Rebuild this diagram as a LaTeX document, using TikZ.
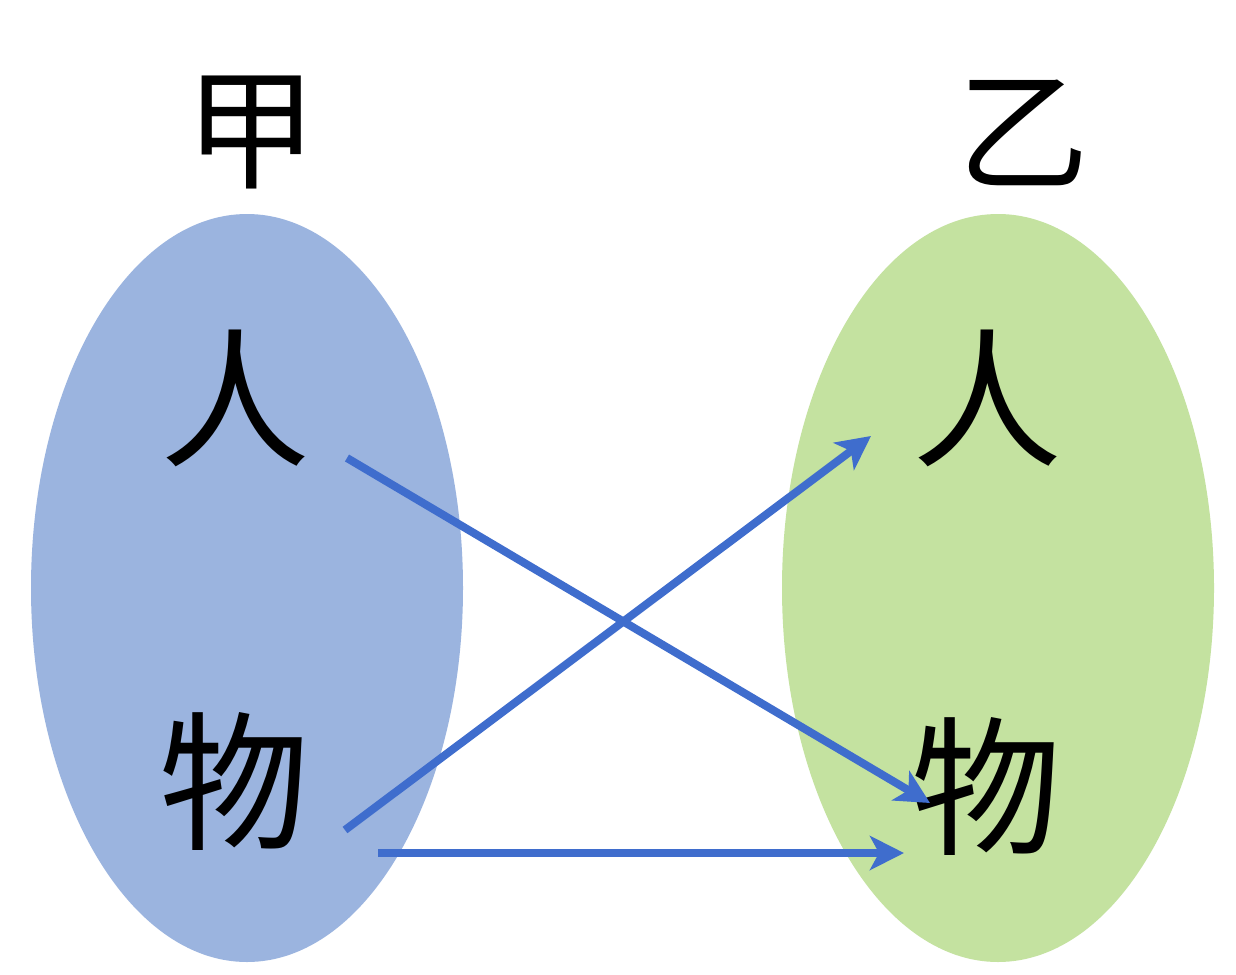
\documentclass[tikz,border=0pt]{standalone}
\usepackage{fontspec}
\newfontfamily\cjk{Noto Sans CJK SC}
\usetikzlibrary{arrows.meta,shapes.geometric}
\definecolor{blobA}{HTML}{9BB4DF}
\definecolor{blobB}{HTML}{C4E2A0}
\definecolor{arrowblue}{HTML}{3F6DCD}
\tikzset{
  blob/.style={ellipse, draw=none, minimum width=432pt, minimum height=748pt, inner sep=0pt},
  bigchar/.style={inner sep=0pt, font=\cjk\fontsize{150}{150}\selectfont},
  titlechar/.style={inner sep=0pt, font=\cjk\fontsize{132}{132}\selectfont},
  link/.style={draw=arrowblue, line width=8pt, -{Stealth[length=34pt, width=34pt, inset=9pt]}}
}
\begin{document}
\begin{tikzpicture}[x=1pt,y=-1pt]
\useasboundingbox[fill=white] (0,0) rectangle (1236,974);
\node[blob, fill=blobA] (L) at (247,588) {};
\node[blob, fill=blobB] (R) at (998,588) {};
\node[titlechar] (jia) at (251,132) {甲};
\node[titlechar] (yi) at (1023,133) {乙};
\node[bigchar] (renL) at (235,398) {人};
\node[bigchar] (wuL) at (234,781) {物};
\node[bigchar] (renR) at (987,398) {人};
\node[bigchar] (wuR) at (986,786) {物};
\coordinate (a1s) at (347,458);
\coordinate (a1e) at (930,803);
\coordinate (a2s) at (345,830);
\coordinate (a2e) at (871,436);
\coordinate (a3s) at (378,853);
\coordinate (a3e) at (904,853);
\draw[link] (a1s) -- (a1e);
\draw[link] (a2s) -- (a2e);
\draw[link] (a3s) -- (a3e);
\end{tikzpicture}
\end{document}
